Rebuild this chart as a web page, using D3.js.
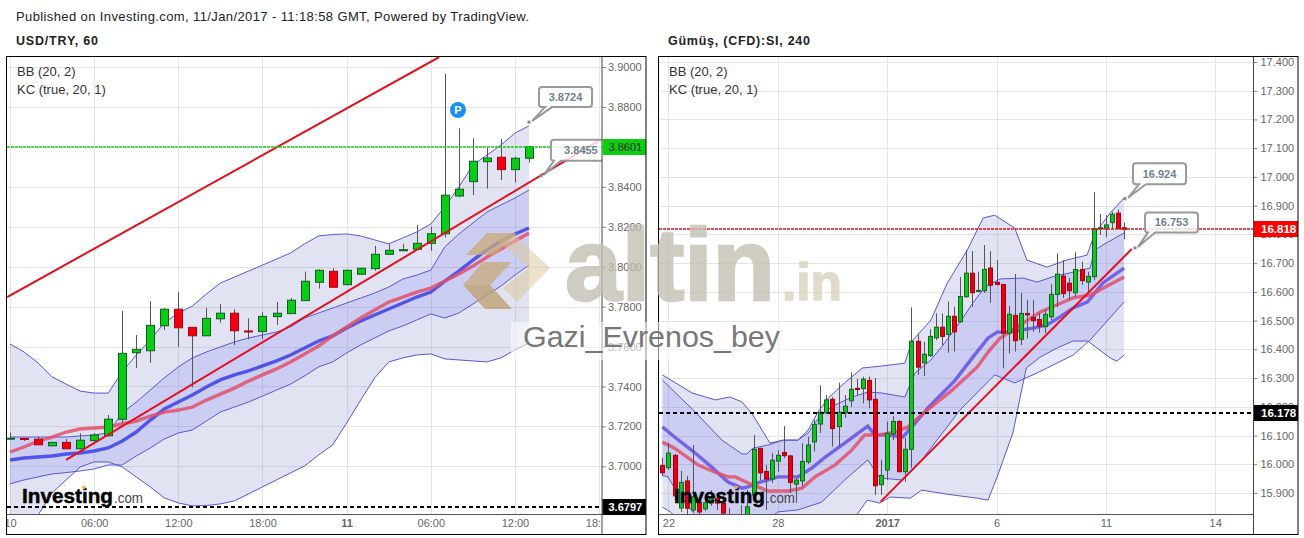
<!DOCTYPE html>
<html><head><meta charset="utf-8">
<script src="https://cdn.jsdelivr.net/npm/d3@7/dist/d3.min.js"></script>
<style>
html,body{margin:0;padding:0;background:#fff;overflow:hidden}
svg{display:block}
text{font-family:"Liberation Sans",Arial,sans-serif}
</style></head><body><svg id="c" width="1304" height="538"></svg>
<script>
// ---------- USD/TRY, 60 ----------
const leftOpen=[3.7137,3.7140,3.7136,3.7103,3.7120,3.7088,3.7129,3.7153,3.7236,3.7569,3.7579,3.7704,3.7787,3.7696,3.7654,3.7739,3.7767,3.7678,3.7675,3.7750,3.7765,3.7830,3.7922,3.7977,3.7910,3.7962,3.7990,3.8062,3.8082,3.8087,3.8117,3.8165,3.8354,3.8426,3.8526,3.8548,3.8486,3.8543];
const leftHigh=[3.7169,3.7141,3.7149,3.7122,3.7136,3.7166,3.7167,3.7257,3.7778,3.7658,3.7827,3.7793,3.7873,3.7698,3.7793,3.7813,3.7787,3.7741,3.7772,3.7823,3.7843,3.7975,3.7987,3.7992,3.7984,3.7994,3.8104,3.8112,3.8114,3.8209,3.8200,3.8965,3.8693,3.8643,3.8596,3.8639,3.8551,3.8603];
const leftLow=[3.7132,3.7127,3.7108,3.7101,3.7088,3.7086,3.7125,3.7150,3.7216,3.7493,3.7519,3.7683,3.7599,3.7396,3.7653,3.7719,3.7608,3.7636,3.7639,3.7708,3.7764,3.7829,3.7890,3.7895,3.7908,3.7960,3.7980,3.8060,3.8078,3.8085,3.8080,3.8147,3.8347,3.8359,3.8391,3.8434,3.8421,3.8521];
const leftClose=[3.7141,3.7137,3.7108,3.7120,3.7088,3.7131,3.7157,3.7236,3.7566,3.7586,3.7706,3.7787,3.7694,3.7654,3.7741,3.7767,3.7679,3.7675,3.7751,3.7767,3.7832,3.7927,3.7982,3.7897,3.7982,3.7992,3.8062,3.8082,3.8085,3.8117,3.8165,3.8358,3.8388,3.8528,3.8544,3.8486,3.8543,3.8601];
const leftBbUpper=[3.7613,3.7573,3.7518,3.7448,3.7412,3.7377,3.7367,3.7367,3.7473,3.7558,3.7633,3.7718,3.7768,3.7803,3.7863,3.7918,3.7948,3.7978,3.8008,3.8038,3.8069,3.8114,3.8154,3.8161,3.8164,3.8154,3.8134,3.8114,3.8144,3.8174,3.8214,3.8299,3.8399,3.8509,3.8559,3.8609,3.8669,3.8705];
const leftKcUpper=[3.7147,3.7147,3.7147,3.7147,3.7147,3.7152,3.7157,3.7167,3.7267,3.7322,3.7382,3.7443,3.7498,3.7543,3.7573,3.7598,3.7623,3.7643,3.7658,3.7673,3.7698,3.7743,3.7768,3.7793,3.7818,3.7843,3.7868,3.7898,3.7938,3.7958,3.7983,3.8099,3.8164,3.8219,3.8274,3.8309,3.8344,3.8384];
const leftKcLower=[3.6912,3.6932,3.6947,3.6962,3.6969,3.6977,3.6987,3.7007,3.7007,3.7052,3.7092,3.7137,3.7167,3.7182,3.7227,3.7272,3.7297,3.7322,3.7352,3.7382,3.7412,3.7453,3.7498,3.7523,3.7568,3.7608,3.7643,3.7678,3.7703,3.7733,3.7763,3.7743,3.7768,3.7813,3.7858,3.7903,3.7958,3.8008];
const leftBbLower=[3.6531,3.6656,3.6756,3.6867,3.6932,3.6997,3.7022,3.7022,3.6997,3.6947,3.6897,3.6842,3.6817,3.6802,3.6804,3.6812,3.6827,3.6862,3.6897,3.6932,3.6967,3.7002,3.7057,3.7107,3.7217,3.7332,3.7443,3.7523,3.7543,3.7558,3.7563,3.7538,3.7533,3.7528,3.7523,3.7543,3.7583,3.7618];
const leftBbBasis=[3.7032,3.7042,3.7047,3.7052,3.7062,3.7067,3.7077,3.7092,3.7127,3.7172,3.7232,3.7287,3.7322,3.7357,3.7397,3.7433,3.7458,3.7478,3.7503,3.7528,3.7558,3.7593,3.7628,3.7653,3.7693,3.7728,3.7758,3.7788,3.7818,3.7848,3.7873,3.7928,3.7978,3.8033,3.8084,3.8129,3.8164,3.8194];
const leftKcBasis=[3.7072,3.7097,3.7127,3.7147,3.7172,3.7187,3.7192,3.7197,3.7212,3.7227,3.7252,3.7272,3.7282,3.7297,3.7332,3.7362,3.7392,3.7427,3.7458,3.7488,3.7523,3.7563,3.7603,3.7653,3.7698,3.7743,3.7783,3.7823,3.7848,3.7873,3.7893,3.7928,3.7963,3.8003,3.8048,3.8089,3.8129,3.8169];
const leftTrendA=[[-0.2,3.7848],[30.6,3.9050]];
const leftTrendB=[[4,3.7032],[42.05,3.8634]];
const leftYTicks=[3.90,3.88,3.86,3.84,3.82,3.80,3.78,3.76,3.74,3.72,3.70];
const leftXTicks=[0,6,12,18,24,30,36,42];
const leftXLabels=["10","06:00","12:00","18:00","11","06:00","12:00","18:00"];
const leftLast=3.8601, leftLevel=3.6797;

// ---------- Gumus, (CFD):SI, 240 ----------
const rightOpen=[15.996,15.988,16.031,15.848,15.942,15.841,15.868,15.845,15.865,15.882,15.865,15.790,15.760,15.770,15.810,15.893,16.055,15.975,15.949,16.011,16.041,16.029,15.931,15.942,16.008,16.078,16.140,16.179,16.226,16.131,16.179,16.221,16.264,16.263,16.292,16.226,15.929,15.980,16.106,16.149,15.974,16.052,16.428,16.353,16.378,16.440,16.477,16.452,16.515,16.496,16.583,16.665,16.603,16.604,16.683,16.633,16.626,16.456,16.518,16.435,16.525,16.511,16.504,16.479,16.513,16.591,16.655,16.630,16.597,16.678,16.634,16.653,16.820,16.823,16.841,16.874,16.823];
const rightHigh=[16.023,16.074,16.036,15.977,15.959,16.067,15.882,15.882,15.910,15.900,15.882,15.848,15.800,15.858,15.910,16.102,16.058,15.997,16.039,16.049,16.133,16.032,15.952,16.073,16.096,16.154,16.275,16.241,16.234,16.284,16.241,16.320,16.297,16.305,16.305,16.300,16.015,16.148,16.168,16.154,16.091,16.546,16.452,16.426,16.470,16.525,16.525,16.566,16.548,16.652,16.746,16.742,16.670,16.763,16.742,16.711,16.627,16.551,16.662,16.596,16.572,16.572,16.526,16.537,16.627,16.734,16.711,16.648,16.738,16.705,16.670,16.947,16.871,16.867,16.878,16.887,16.841];
const rightLow=[15.959,15.980,15.875,15.834,15.823,15.834,15.823,15.837,15.855,15.841,15.806,15.740,15.740,15.750,15.790,15.870,15.945,15.841,15.935,15.974,16.022,15.900,15.866,15.922,16.001,16.044,16.109,16.175,16.061,16.061,16.161,16.200,16.241,16.212,16.195,15.893,15.893,15.945,16.084,15.972,15.939,15.987,16.311,16.307,16.373,16.432,16.415,16.388,16.392,16.492,16.579,16.548,16.599,16.596,16.562,16.622,16.334,16.386,16.392,16.415,16.438,16.461,16.458,16.456,16.502,16.548,16.579,16.572,16.583,16.624,16.595,16.641,16.798,16.790,16.820,16.819,16.783];
const rightClose=[15.970,16.039,15.890,15.937,15.847,15.887,15.834,15.866,15.882,15.865,15.830,15.760,15.790,15.780,15.852,16.052,15.970,15.949,16.014,16.031,16.030,15.937,15.945,16.010,16.067,16.139,16.181,16.224,16.124,16.181,16.202,16.261,16.260,16.296,16.224,15.925,15.961,16.108,16.149,15.974,16.052,16.428,16.338,16.383,16.445,16.477,16.445,16.515,16.461,16.584,16.665,16.597,16.605,16.678,16.623,16.626,16.456,16.522,16.430,16.525,16.520,16.500,16.481,16.522,16.591,16.662,16.594,16.604,16.678,16.639,16.654,16.820,16.823,16.833,16.870,16.821,16.818];
const rightBbUpper=[[0,16.311],[4.9,16.248],[8.7,16.224],[11.1,16.234],[13.1,16.217],[14.7,16.178],[17.7,16.074],[19.9,16.084],[22.3,16.084],[24,16.119],[25.6,16.182],[27.3,16.230],[29.6,16.276],[32.9,16.335],[36.1,16.342],[39.9,16.352],[41.1,16.429],[44.2,16.502],[46.9,16.631],[50.2,16.746],[52.8,16.857],[54.7,16.867],[58,16.822],[60,16.711],[63.3,16.686],[66.6,16.711],[69.9,16.728],[71.2,16.805],[73.7,16.874],[76,16.927]];
const rightKcUpper=[[0,16.293],[5.4,16.182],[9.8,16.084],[13.1,16.036],[13.9,16.036],[14.9,16.056],[17.4,16.067],[19.9,16.084],[22.3,16.084],[24,16.109],[26.3,16.178],[28.4,16.206],[31.2,16.234],[33.8,16.251],[36.1,16.248],[39.9,16.234],[41.6,16.318],[44.2,16.363],[46.2,16.415],[49,16.495],[51.1,16.561],[53.1,16.617],[55.6,16.645],[59.4,16.648],[61.7,16.634],[64.6,16.655],[67.1,16.666],[70.4,16.683],[71.2,16.746],[72.5,16.763],[76,16.805]];
const rightKcLower=[[0,15.962],[0.9,15.956],[1.7,15.928],[6.2,15.799],[12.8,15.771],[17.7,15.813],[19,15.834],[22.3,15.841],[26.2,15.868],[30,15.945],[33.8,16.015],[35.8,15.952],[39.6,15.945],[42.7,16.015],[49,16.189],[54.7,16.311],[58,16.283],[61.7,16.318],[67.6,16.380],[70.4,16.432],[76,16.565]];
const rightBbLower=[[0,15.851],[1.3,15.834],[6.2,15.736],[27.6,15.736],[32.2,15.830],[33.7,15.875],[35.8,15.865],[37.5,15.886],[40.8,15.882],[42.7,15.910],[46.8,15.896],[51.8,15.882],[53.6,15.875],[55.1,15.956],[57.7,16.109],[58.9,16.234],[59.9,16.335],[62.2,16.373],[65,16.405],[67.6,16.429],[70,16.429],[73.7,16.370],[74.8,16.359],[76,16.380]];
const rightBbBasis=[[0,16.130],[2,16.095],[5.4,16.039],[8.1,15.990],[10.8,15.938],[13.1,15.917],[14.1,15.921],[15.7,15.935],[19,15.956],[22.3,15.956],[24.6,15.987],[26.8,16.025],[30,16.074],[33.8,16.133],[35,16.102],[37.1,16.102],[39.6,16.095],[41.6,16.143],[43.7,16.196],[48.2,16.293],[51.1,16.373],[53.6,16.439],[55.1,16.460],[56.7,16.460],[61,16.474],[63.3,16.485],[65.4,16.512],[67.6,16.544],[70,16.565],[72.5,16.631],[76,16.683]];
const rightKcBasis=[[0,16.077],[2,16.056],[5.9,15.997],[8.6,15.973],[10.8,15.956],[12,15.956],[14.1,15.935],[17.4,15.907],[20.7,15.907],[23,15.917],[25.1,15.956],[28.4,15.997],[31.2,16.050],[33.3,16.102],[35.5,16.102],[38.3,16.112],[40.4,16.130],[43.2,16.182],[47.3,16.251],[51.8,16.338],[53.9,16.398],[55.6,16.439],[58.4,16.478],[62.2,16.530],[67.6,16.579],[70.4,16.589],[76,16.652]];
const rightTrend=[[35.93,15.870],[77.25,16.749]];
const rightYTicks=[17.4,17.3,17.2,17.1,17.0,16.9,16.8,16.7,16.6,16.5,16.4,16.3,16.2,16.1,16.0,15.9];
const rightXTicks=[1,19,37,55,73,91];
const rightXLabels=["22","28","2017","6","11","14"];
const rightLast=16.818, rightLevel=16.178;

const headerText="Published on Investing.com, 11/Jan/2017 - 11:18:58 GMT, Powered by TradingView.";

// ---------- drawing ----------
const svg=d3.select("#c");
const defs=svg.append("defs");
function zipC(o,h,l,c){return o.map((v,i)=>({i,o:v,h:h[i],l:l[i],c:c[i]}));}
function idx(a){return a.map((v,i)=>[i,v]);}

function panel(cfg){
  const g=svg.append("g");
  const {x,y}=cfg;
  const clipId="clip"+cfg.id;
  defs.append("clipPath").attr("id",clipId).append("rect").attr("x",cfg.left).attr("y",57).attr("width",cfg.axisX-cfg.left).attr("height",458);
  const labClip="lab"+cfg.id;
  defs.append("clipPath").attr("id",labClip).append("rect").attr("x",cfg.left).attr("y",515).attr("width",cfg.axisX-cfg.left-1).attr("height",19);

  // grid
  const grid=g.append("g").attr("clip-path",`url(#${clipId})`).attr("stroke","#e5e5e5").attr("stroke-width",1);
  grid.selectAll("line.h").data(cfg.yTicks).enter().append("line").attr("x1",cfg.left).attr("x2",cfg.axisX)
    .attr("y1",d=>Math.round(y(d))+.5).attr("y2",d=>Math.round(y(d))+.5);
  grid.selectAll("line.v").data(cfg.xTicks).enter().append("line").attr("y1",57).attr("y2",515)
    .attr("x1",d=>Math.round(x(d))+.5).attr("x2",d=>Math.round(x(d))+.5);

  const plot=g.append("g").attr("clip-path",`url(#${clipId})`);
  const line=d3.line().x(d=>x(d[0])).y(d=>y(d[1]));
  const poly=(a,b)=>line(a.concat(b.slice().reverse()))+"Z";
  plot.append("path").attr("d",poly(cfg.bbU,cfg.bbL)).attr("fill","#6a6ec0").attr("fill-opacity",.2);
  plot.append("path").attr("d",poly(cfg.kcU,cfg.kcL)).attr("fill","#4a50ff").attr("fill-opacity",.14);
  [cfg.bbU,cfg.bbL,cfg.kcU,cfg.kcL].forEach(a=>plot.append("path").attr("d",line(a)).attr("fill","none").attr("stroke","#5a58cc").attr("stroke-width",1));
  plot.append("path").attr("d",line(cfg.bbM)).attr("fill","none").attr("stroke",cfg.blue).attr("stroke-width",3.4).attr("stroke-opacity",.9);
  plot.append("path").attr("d",line(cfg.kcM)).attr("fill","none").attr("stroke","#e0506a").attr("stroke-width",3.4).attr("stroke-opacity",.85);

  // candles
  const cg=plot.selectAll("g.cd").data(cfg.candles).enter().append("g");
  cg.append("line").attr("x1",d=>Math.round(x(d.i))+.5).attr("x2",d=>Math.round(x(d.i))+.5)
    .attr("y1",d=>y(d.h)).attr("y2",d=>y(d.l)).attr("stroke",cfg.wick).attr("stroke-width",1);
  cg.append("rect").attr("x",d=>Math.round(x(d.i))+.5-cfg.bw/2).attr("width",cfg.bw)
    .attr("y",d=>y(Math.max(d.o,d.c))).attr("height",d=>Math.max(1,Math.abs(y(d.o)-y(d.c))))
    .attr("fill",d=>d.c>=d.o?cfg.up:cfg.down)
    .attr("stroke",d=>d.c>=d.o?cfg.upEdge:cfg.downEdge).attr("stroke-width",1);

  // trend lines
  cfg.trends.forEach(t=>plot.append("path").attr("d",line(t)).attr("fill","none").attr("stroke","#e2101e").attr("stroke-width",2));

  // level lines
  plot.append("line").attr("x1",cfg.left).attr("x2",cfg.axisX).attr("y1",Math.round(y(cfg.last))).attr("y2",Math.round(y(cfg.last)))
    .attr("stroke",cfg.lastColor).attr("stroke-width",1.6).attr("stroke-dasharray","3,1");
  plot.append("line").attr("x1",cfg.left).attr("x2",cfg.axisX).attr("y1",Math.round(y(cfg.level))).attr("y2",Math.round(y(cfg.level)))
    .attr("stroke","#000").attr("stroke-width",2).attr("stroke-dasharray","4,3");

  // callouts
  cfg.callouts.forEach(c=>{
    const px=x(c.i), py=y(c.v);
    const bx=px+c.dx, by=py+c.dy, bw=c.w, bh=c.h, r=3, b=by+bh;
    const p=`M${bx+r},${by}H${bx+bw-r}Q${bx+bw},${by} ${bx+bw},${by+r}V${b-r}Q${bx+bw},${b} ${bx+bw-r},${b}H${bx+c.t+7}L${px+3},${py-1}L${bx+c.t},${b}H${bx+r}Q${bx},${b} ${bx},${b-r}V${by+r}Q${bx},${by} ${bx+r},${by}Z`;
    plot.append("path").attr("d",p).attr("fill","#fff").attr("fill-opacity",.8).attr("stroke","#999").attr("stroke-width",2);
    plot.append("rect").attr("x",px-1.5).attr("y",py-1.5).attr("width",3).attr("height",3).attr("fill","#888");
    plot.append("text").attr("x",bx+bw/2).attr("y",by+bh/2+4).attr("text-anchor","middle")
      .attr("font-size",11).attr("font-weight","bold").attr("fill","#6f7f92").text(c.label);
  });

  // axes
  const yAxis=d3.axisRight(y).tickValues(cfg.yTicks).tickFormat(d3.format(cfg.fmt)).tickSize(4).tickPadding(cfg.pad);
  const ya=g.append("g").attr("transform",`translate(${cfg.axisX-.5},0)`).call(yAxis);
  ya.select(".domain").remove();
  ya.selectAll("line").attr("stroke","#888");
  ya.selectAll("text").attr("font-size",11).attr("fill","#666").style("font-family",'"Liberation Sans"');
  g.append("line").attr("x1",cfg.axisX-.5).attr("x2",cfg.axisX-.5).attr("y1",57).attr("y2",534).attr("stroke","#444");
  const xAxis=d3.axisBottom(x).tickValues(cfg.xTicks).tickFormat((d,i)=>cfg.xLabels[i]).tickSize(0).tickPadding(5);
  const xa=g.append("g").attr("clip-path",`url(#${labClip})`).append("g").attr("transform","translate(0,514.5)").call(xAxis);
  xa.select(".domain").remove();
  xa.selectAll("text").attr("font-size",11).attr("fill","#666").style("font-family",'"Liberation Sans"')
    .attr("font-weight",(d,i)=>cfg.xLabels[i]===cfg.boldLabel?"bold":"normal");
  g.append("line").attr("x1",cfg.left).attr("x2",cfg.axisX).attr("y1",514.5).attr("y2",514.5).attr("stroke","#555");

  // axis value boxes
  const box=(v,fill,color,weight)=>{
    const cy=Math.round(y(v));
    g.append("rect").attr("x",cfg.axisX).attr("y",cy-8).attr("width",cfg.right-cfg.axisX).attr("height",16).attr("fill",fill);
    g.append("text").attr("x",cfg.axisX+cfg.boxPad).attr("y",cy+4).attr("font-size",cfg.boxSize).attr("font-weight",weight).attr("fill",color).text(d3.format(cfg.fmt2)(v));
  };
  box(cfg.last,cfg.boxFill,cfg.boxText,cfg.boxWeight);
  box(cfg.level,"#000","#fff","bold");

  // frame
  g.append("rect").attr("x",cfg.left-.5).attr("y",56.5).attr("width",cfg.right-cfg.left+.5).attr("height",478).attr("fill","none").attr("stroke","#000");

  // headers
  svg.append("text").attr("x",cfg.left+cfg.titleDx).attr("y",45).attr("font-size",12.5).attr("font-weight","bold").attr("fill","#222")
    .attr("textLength",cfg.titleW).attr("lengthAdjust","spacing").text(cfg.title);
  svg.append("text").attr("x",cfg.left+10).attr("y",76).attr("font-size",13).attr("fill","#333").text("BB (20, 2)");
  svg.append("text").attr("x",cfg.left+10).attr("y",93.5).attr("font-size",13).attr("fill","#333").text("KC (true, 20, 1)");
}

panel({id:"L",left:7,right:646,axisX:602.5,
  x:d3.scaleLinear().domain([0,37]).range([10,529]),
  y:d3.scaleLinear().domain([3.9,3.68]).range([67,506.3]),
  candles:zipC(leftOpen,leftHigh,leftLow,leftClose),
  bbU:idx(leftBbUpper),bbL:idx(leftBbLower),kcU:idx(leftKcUpper),kcL:idx(leftKcLower),bbM:idx(leftBbBasis),kcM:idx(leftKcBasis),
  trends:[leftTrendA,leftTrendB],yTicks:leftYTicks,xTicks:leftXTicks,xLabels:leftXLabels,boldLabel:"11",
  blue:"#4448e6",bw:8,wick:"#555",up:"#08cc18",down:"#f20010",upEdge:"#0b5f1a",downEdge:"#b00010",
  last:leftLast,level:leftLevel,lastColor:"#18d018",fmt:".4f",fmt2:".4f",pad:2,boxPad:6,boxSize:11,
  boxFill:"#0ccf10",boxText:"#222",boxWeight:"normal",
  callouts:[{i:37,v:3.8724,dx:10,dy:-35,w:53,h:20,t:6,label:"3.8724"},{i:37.85,v:3.8455,dx:10,dy:-36,w:60,h:21,t:3,label:"3.8455"}],
  title:"USD/TRY, 60",titleDx:9,titleW:82});

panel({id:"R",left:659,right:1298,axisX:1254,
  x:d3.scaleLinear().domain([0,76]).range([662.4,1124.1]),
  y:d3.scaleLinear().domain([17.4,15.9]).range([62,493]),
  candles:zipC(rightOpen,rightHigh,rightLow,rightClose),
  bbU:rightBbUpper,bbL:rightBbLower,kcU:rightKcUpper,kcL:rightKcLower,bbM:rightBbBasis,kcM:rightKcBasis,
  trends:[rightTrend],yTicks:rightYTicks,xTicks:rightXTicks,xLabels:rightXLabels,boldLabel:"2017",
  blue:"#6a58e6",bw:4,wick:"#555",up:"#18c024",down:"#e60012",upEdge:"#0b6a1a",downEdge:"#a80010",
  last:rightLast,level:rightLevel,lastColor:"#e0101c",fmt:".3f",fmt2:".3f",pad:3,boxPad:7,boxSize:11.5,
  boxFill:"#f00",boxText:"#fff",boxWeight:"bold",
  callouts:[{i:76.15,v:16.924,dx:8,dy:-35.5,w:53,h:21,t:6,label:"16.924"},{i:77.8,v:16.753,dx:10,dy:-35.5,w:53,h:20,t:3,label:"16.753"}],
  title:"Gümüş, (CFD):SI, 240",titleDx:9,titleW:142});

svg.append("text").attr("x",16).attr("y",21).attr("font-size",13).attr("fill","#222")
  .attr("textLength",513).attr("lengthAdjust","spacing").text(headerText);

// Investing.com logos
[22,674].forEach(lx=>{
  svg.append("text").attr("x",lx).attr("y",503).attr("font-size",21).attr("font-weight","bold").attr("fill","#000")
    .attr("stroke","#000").attr("stroke-width",.5)
    .attr("textLength",91).attr("lengthAdjust","spacingAndGlyphs").text("Investing");
  svg.append("text").attr("x",lx+92).attr("y",503).attr("font-size",15).attr("fill","#444")
    .attr("textLength",29).attr("lengthAdjust","spacingAndGlyphs").text(".com");
  svg.append("circle").attr("cx",lx+62).attr("cy",487.5).attr("r",1.8).attr("fill","#f2a93b");
});

// P marker
svg.append("circle").attr("cx",458).attr("cy",110).attr("r",8).attr("fill","#1b8ff2");
svg.append("text").attr("x",458).attr("y",114).attr("text-anchor","middle").attr("font-size",11).attr("font-weight","bold").attr("fill","#fff").text("P");

// altin.in watermark
const wm=svg.append("g");
const lp=d3.line();
wm.append("path").attr("d",lp([[513,233],[550,268],[517,302],[503,288],[528,268],[497,240]])+"Z").attr("fill","#dcc89f").attr("fill-opacity",.55);
wm.append("path").attr("d",lp([[466,255],[487,233],[517,233],[495,255]])+"Z").attr("fill","#c8aa78").attr("fill-opacity",.75);
wm.append("path").attr("d",lp([[463,285],[483,262],[512,262],[490,285]])+"Z").attr("fill","#c8aa78").attr("fill-opacity",.75);
wm.append("path").attr("d",lp([[463,285],[485,309],[512,309],[490,285]])+"Z").attr("fill","#bfa272").attr("fill-opacity",.8);
wm.append("text").attr("x",565).attr("y",300).attr("font-size",102).attr("font-weight","bold").attr("fill","#c2beb2").attr("stroke","#c2beb2").attr("stroke-width",2.5).attr("opacity",.78)
  .attr("textLength",210).attr("lengthAdjust","spacingAndGlyphs").text("altin");
wm.append("text").attr("x",782).attr("y",300).attr("font-size",52).attr("font-weight","bold").attr("fill","#d8d2bc").attr("stroke","#d8d2bc").attr("stroke-width",1.5).attr("opacity",.78)
  .attr("textLength",60).attr("lengthAdjust","spacingAndGlyphs").text(".in");
wm.append("rect").attr("x",511).attr("y",322).attr("width",280).attr("height",38).attr("fill","#fff").attr("fill-opacity",.55);
wm.append("text").attr("x",523).attr("y",347).attr("font-size",30).attr("fill","#777")
  .attr("textLength",257).attr("lengthAdjust","spacingAndGlyphs").text("Gazi_Evrenos_bey");
</script></body></html>
